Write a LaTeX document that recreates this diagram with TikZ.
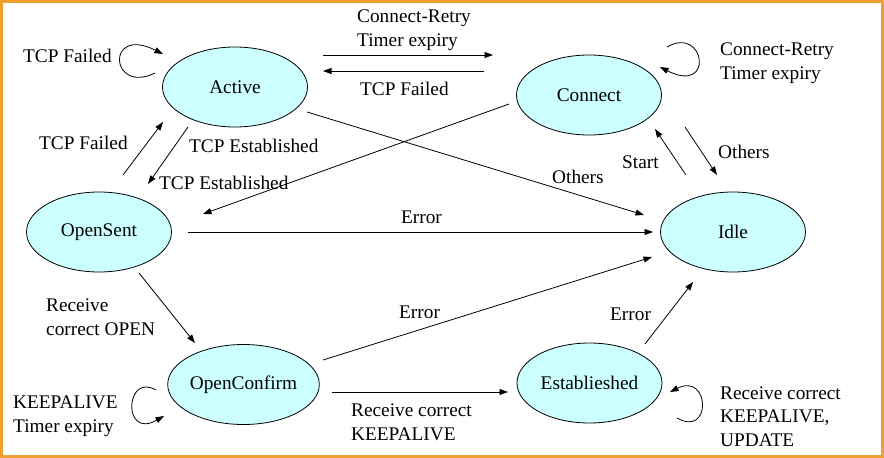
\documentclass[tikz,border=0pt]{standalone}
\usepackage{fontspec}
\setmainfont{Liberation Serif}
\usetikzlibrary{arrows.meta,calc,shapes.geometric}
\definecolor{statefill}{HTML}{CCFFFF}
\definecolor{frameorange}{HTML}{F0A030}
\begin{document}
\begin{tikzpicture}[x=1pt,y=-1pt,
  every node/.style={font=\fontsize{19.3}{23.5}\selectfont},
  state/.style={ellipse,draw,fill=statefill,minimum width=145pt,minimum height=80pt,inner sep=0pt,line width=0.8pt},
  conn/.style={-{Triangle[length=8.5pt,width=6pt]},line width=0.8pt},
  lbl/.style={anchor=base west,inner sep=0pt,align=left}
]
\useasboundingbox (0,0) rectangle (884,458);
\draw[frameorange,line width=3pt] (1.5,1.5) rectangle (882.5,456.5);

\node[state] (active) at (235,87) {Active};
\node[state] (connect) at (589,95) {Connect};
\node[state] (opensent) at (99,232) {OpenSent};
\node[state] (idle) at (733,232) {Idle};
\node[state] (openconfirm) at (243.5,384.5) {OpenConfirm};
\node[state] (established) at (589.5,383) {Establieshed};

% connectors
\draw[conn] ($(active)+(-80,-14)$) .. controls ($(active)+(-125,8)$) and ($(active)+(-130,-62)$) .. ($(active)+(-72,-33)$);
\draw[conn] ($(active)+(88,-32)$) -- ($(connect)+(-96,-40)$);
\draw[conn] ($(connect)+(-105,-24)$) -- ($(active)+(88,-16)$);
\draw[conn] ($(connect)+(78,-48)$) .. controls ($(connect)+(116,-70)$) and ($(connect)+(126,0)$) .. ($(connect)+(71,-28)$);
\draw[conn] ($(active)+(72,25)$) -- ($(idle)+(-89,-17)$);
\draw[conn] ($(connect)+(-80,9)$) -- ($(opensent)+(104,-18)$);
\draw[conn] ($(idle)+(-47,-57)$) -- ($(connect)+(66,34)$);
\draw[conn] ($(connect)+(96,32)$) -- ($(idle)+(-16,-57)$);
\draw[conn] ($(opensent)+(24,-57)$) -- ($(active)+(-72,35)$);
\draw[conn] ($(active)+(-47,40)$) -- ($(opensent)+(49,-48)$);
\draw[conn] ($(opensent)+(89,0)$) -- ($(idle)+(-80,0)$);
\draw[conn] ($(opensent)+(40,41)$) -- ($(openconfirm)+(-48.5,-41.5)$);
\draw[conn] ($(openconfirm)+(79.5,-24.5)$) -- ($(idle)+(-81,25)$);
\draw[conn] ($(openconfirm)+(-87.5,5.5)$) .. controls ($(openconfirm)+(-118.5,-12.5)$) and ($(openconfirm)+(-121.5,55.5)$) .. ($(openconfirm)+(-79.5,31.5)$);
\draw[conn] ($(openconfirm)+(88.5,7.5)$) -- ($(established)+(-81.5,9)$);
\draw[conn] ($(established)+(55.5,-39)$) -- ($(idle)+(-40,50)$);
\draw[conn] ($(established)+(87.5,35)$) .. controls ($(established)+(122.5,55)$) and ($(established)+(120.5,-11)$) .. ($(established)+(80.5,9)$);

% labels (base = baseline of last line)
\node[lbl] (l1) at (23,62) {TCP Failed};
\node[lbl] (l2) at (357,46) {Connect-Retry\\Timer expiry};
\node[lbl] (l3) at (360,95) {TCP Failed};
\node[lbl] (l4) at (720,79) {Connect-Retry\\Timer expiry};
\node[lbl] (l5) at (39,149) {TCP Failed};
\node[lbl] (l6) at (189,152) {TCP Established};
\node[lbl] (l7) at (159,189) {TCP Established};
\node[lbl] (l8) at (552,183) {Others};
\node[lbl] (l9) at (622,168) {Start};
\node[lbl] (l10) at (718,158) {Others};
\node[lbl] (l11) at (401,223) {Error};
\node[lbl] (l12) at (46,335) {Receive\\correct OPEN};
\node[lbl] (l13) at (399,318) {Error};
\node[lbl] (l14) at (610,320) {Error};
\node[lbl] (l15) at (13,432) {KEEPALIVE\\Timer expiry};
\node[lbl] (l16) at (351,440) {Receive correct\\KEEPALIVE};
\node[lbl] (l17) at (720,446) {Receive correct\\KEEPALIVE,\\UPDATE};
\end{tikzpicture}
\end{document}
